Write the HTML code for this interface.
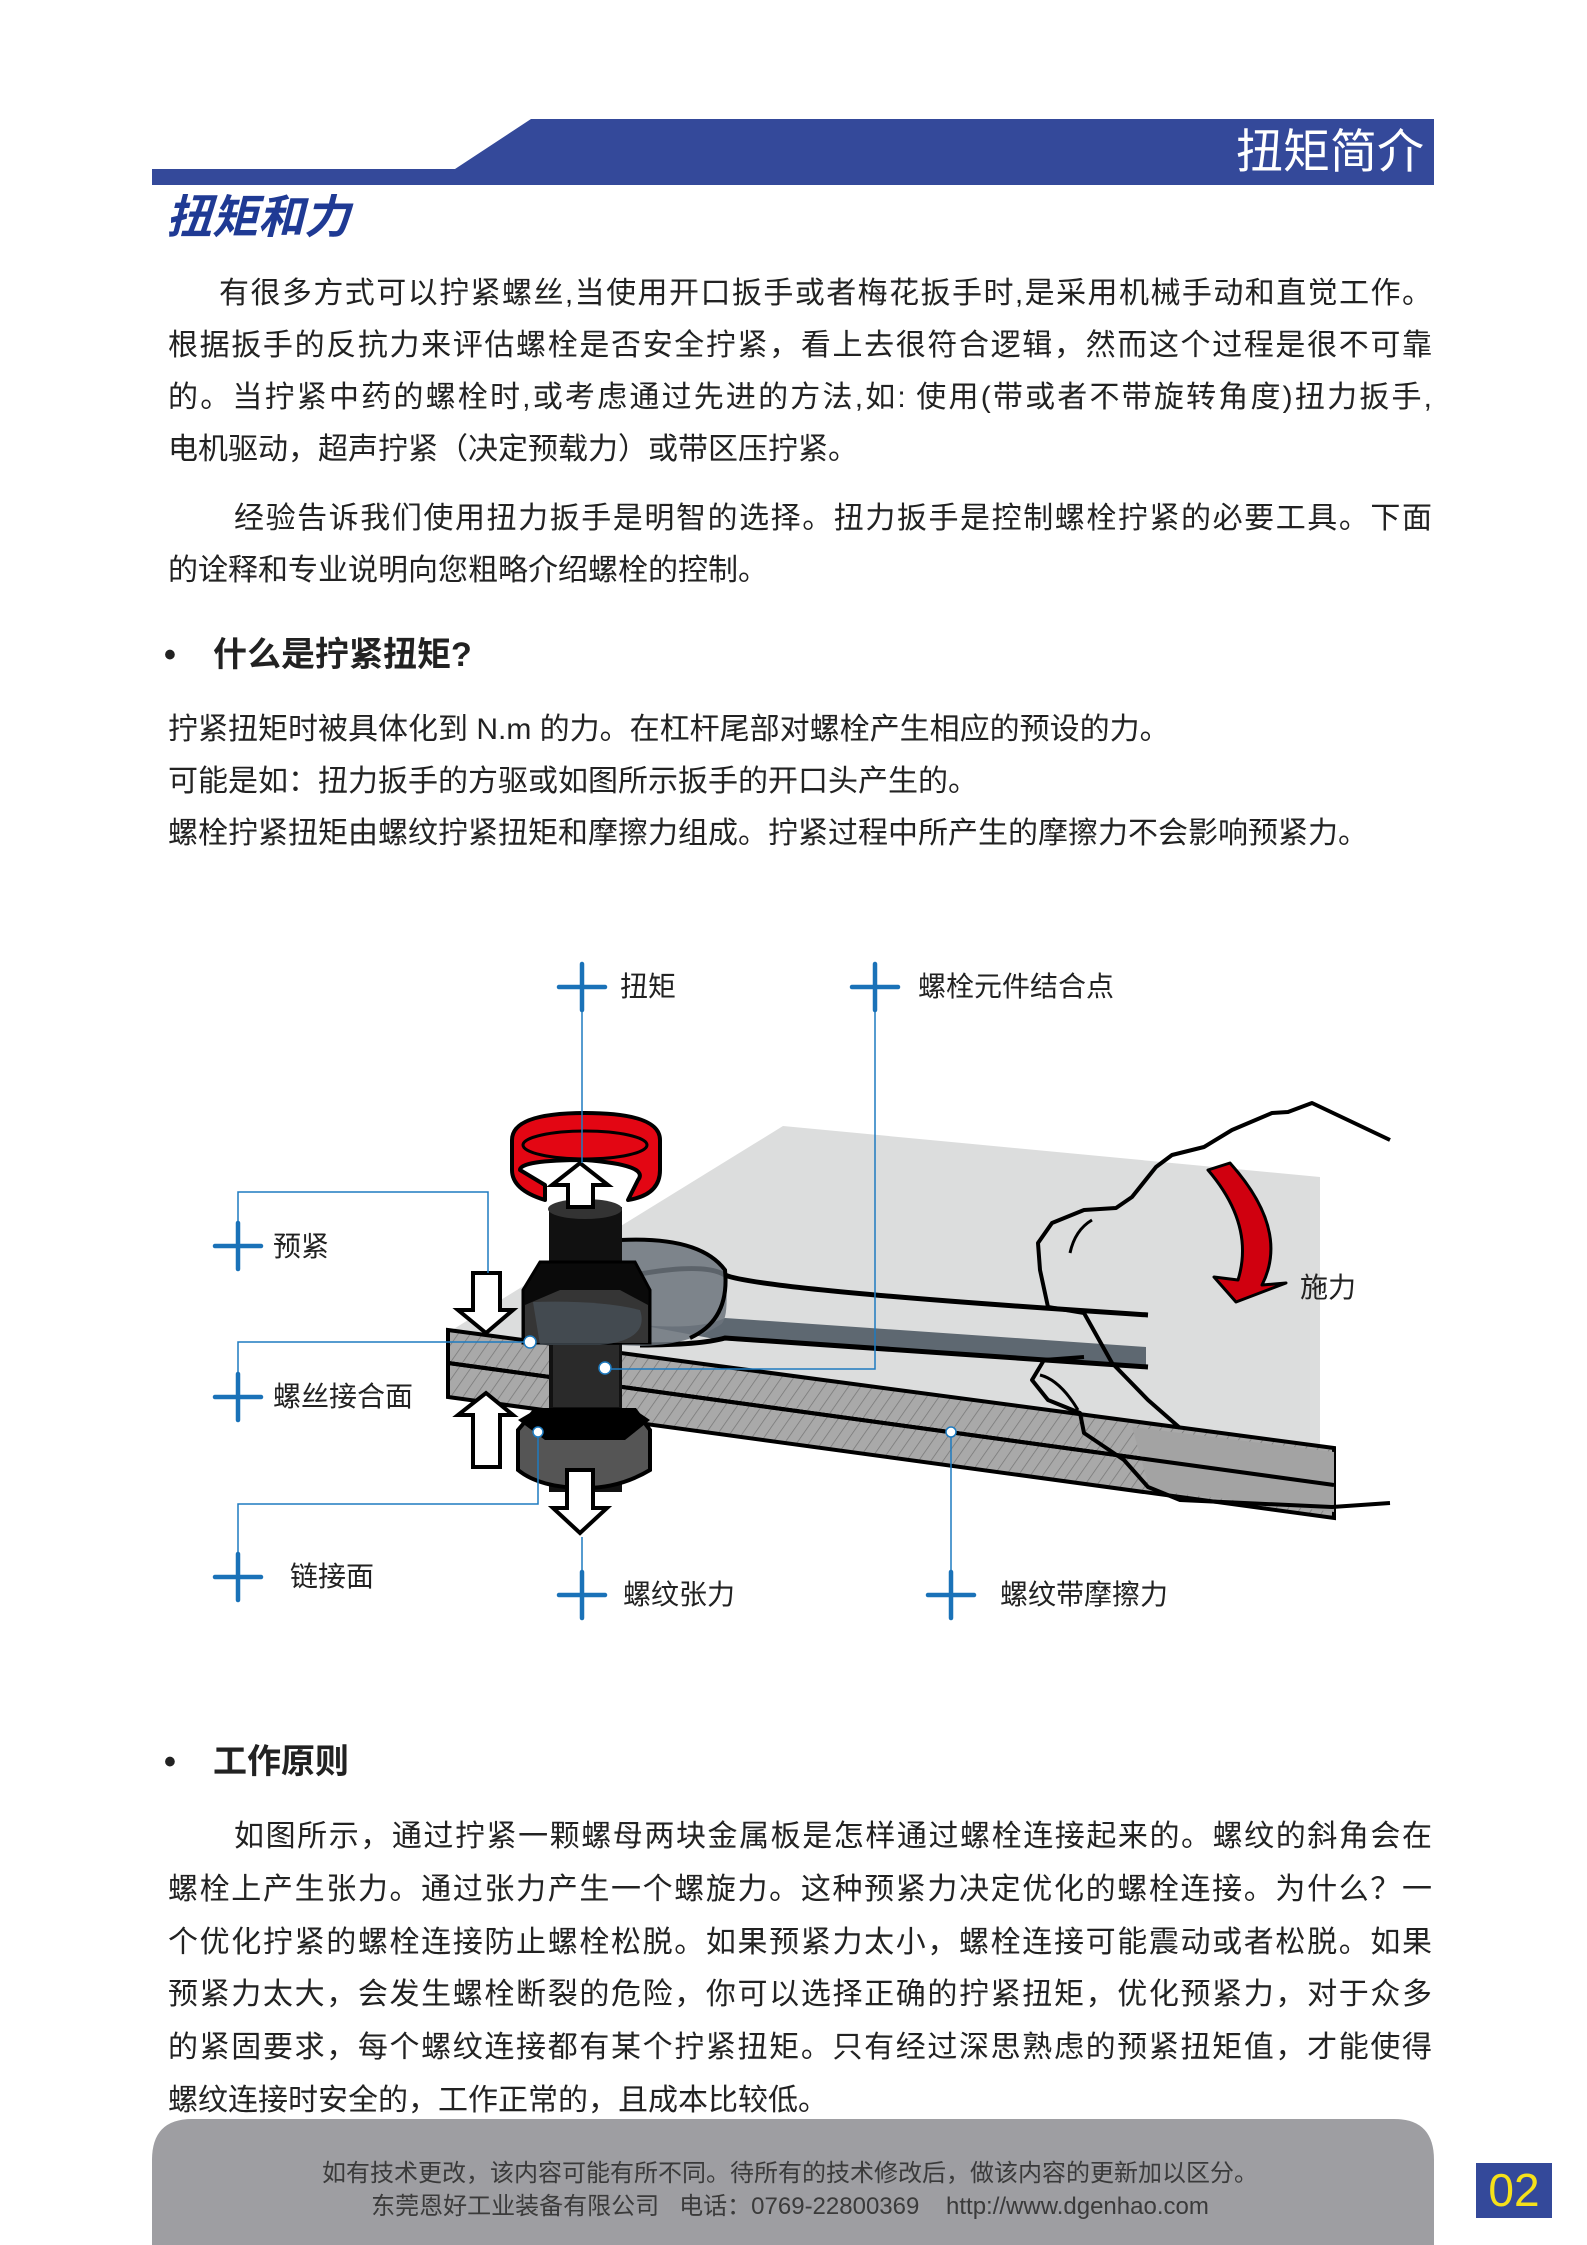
<!DOCTYPE html>
<html><head><meta charset="utf-8">
<style>
html,body{margin:0;padding:0;background:#fff}
body{width:1587px;height:2245px;position:relative;overflow:hidden;font-family:"Liberation Sans","Noto Sans CJK SC",sans-serif;color:#222}
.l{position:absolute;font-size:30px;line-height:40px;white-space:nowrap}
.j{text-align:justify;text-align-last:justify;white-space:normal}
.lab{position:absolute;font-size:28px;line-height:36px;color:#222;white-space:nowrap}
</style></head><body>
<svg width="1587" height="2245" style="position:absolute;left:0;top:0">
<defs>
<pattern id="h" width="10" height="10" patternUnits="userSpaceOnUse" patternTransform="rotate(35)">
<rect width="10" height="10" fill="#a9a9a9"/><line x1="0" y1="0" x2="0" y2="10" stroke="#777" stroke-width="1.5"/></pattern>
</defs>
<polygon points="152,169 455,169 531,119 1434,119 1434,185 152,185" fill="#34499a"/>
<path d="M152,2245 L152,2160 Q152,2119 192,2119 L1394,2119 Q1434,2119 1434,2160 L1434,2245 Z" fill="#9e9ea2"/>
<rect x="1476" y="2163" width="76" height="55" fill="#34499a"/>

<polygon points="452,1330 783,1126 1320,1177 1320,1446" fill="#dcdddd"/>
<path d="M610,1280 Q700,1260 725,1275 Q760,1290 1148,1315" fill="none" stroke="#000" stroke-width="5"/>
<path d="M640,1325 Q700,1330 725,1318 L1146,1347 L1146,1367 L720,1340 Z" fill="#5e6871"/>
<path d="M640,1345 Q700,1345 725,1338 L1148,1367" fill="none" stroke="#000" stroke-width="5"/>
<path d="M620,1240 Q700,1236 725,1270 Q730,1320 720,1325 Q680,1350 620,1345 Z" fill="#6c747c" opacity="0.85"/>
<path d="M620,1240 Q700,1236 725,1270 Q730,1320 690,1338" fill="none" stroke="#000" stroke-width="4"/>
<polygon points="448,1330 1334,1448 1334,1485 448,1363" fill="url(#h)" stroke="#000" stroke-width="4"/>
<polygon points="448,1363 1334,1485 1334,1518 448,1397" fill="url(#h)" stroke="#000" stroke-width="4"/>
<polygon points="1132,1427 1334,1452 1334,1512 1150,1490 Q1120,1460 1132,1427Z" fill="#a3a3a3"/>
<line x1="448" y1="1363" x2="1334" y2="1485" stroke="#000" stroke-width="4"/>
<path d="M1390,1140 L1312,1103 L1288,1112 L1272,1113 L1232,1130 L1204,1147 L1172,1155 L1156,1167 L1132,1197 L1116,1208 L1084,1210 L1052,1223 L1038,1243 L1040,1270 L1048,1307 L1084,1313 L1112,1363 L1148,1400 L1180,1428" fill="none" stroke="#000" stroke-width="4" stroke-linejoin="round"/>
<path d="M1070,1253 Q1075,1230 1092,1220" fill="none" stroke="#000" stroke-width="3"/>
<path d="M1084,1357 L1044,1360 L1032,1380 L1048,1400 L1080,1413 L1084,1433 L1124,1460 L1148,1487 L1180,1500 L1332,1507 L1390,1503" fill="none" stroke="#000" stroke-width="4" stroke-linejoin="round"/>
<path d="M1040,1375 Q1060,1380 1078,1410" fill="none" stroke="#000" stroke-width="3"/>
<path d="M1208,1170 L1230,1163 Q1290,1230 1262,1285 L1286,1283 L1236,1302 L1214,1277 L1238,1280 Q1255,1225 1208,1170Z" fill="#d0000f" stroke="#000" stroke-width="3" stroke-linejoin="round"/>
<rect x="549" y="1207" width="73" height="285" fill="#111"/>
<ellipse cx="585" cy="1209" rx="37" ry="10" fill="#333"/>
<path d="M523,1290 L540,1262 L635,1262 L650,1290 L650,1343 L523,1343Z" fill="#0a0a0a" stroke="#000" stroke-width="3"/>
<path d="M525,1305 L560,1290 L620,1290 L648,1305 L648,1343 L525,1343Z" fill="#3a3a3a" opacity="0.9"/>
<path d="M533,1302 Q600,1300 640,1310 Q650,1340 600,1345 L540,1345 Z" fill="#4a545c" opacity="0.7"/>
<rect x="553" y="1345" width="66" height="62" fill="#2a2a2a"/>
<path d="M518,1430 L535,1410 L635,1410 L650,1430 L650,1470 Q620,1488 585,1488 Q540,1488 518,1470Z" fill="#555" stroke="#000" stroke-width="4"/>
<path d="M518,1420 L535,1410 L635,1410 L650,1420 L625,1440 L545,1440Z" fill="#000"/>
<path d="M512,1140 Q512,1113 585,1113 Q660,1113 660,1140 L660,1170 Q660,1195 628,1200 L638,1180 Q650,1165 585,1160 Q520,1160 520,1170 L545,1185 L545,1200 Q512,1190 512,1170Z" fill="#e30613" stroke="#000" stroke-width="4" stroke-linejoin="round"/>
<ellipse cx="585" cy="1145" rx="62" ry="14" fill="none" stroke="#000" stroke-width="3"/>
<g fill="#fff" stroke="#000" stroke-width="4" stroke-linejoin="miter">
<polygon points="568,1207 568,1185 552,1185 580,1163 608,1185 593,1185 593,1207"/>
<polygon points="473,1273 500,1273 500,1310 513,1310 486,1333 458,1310 473,1310"/>
<polygon points="473,1467 500,1467 500,1415 513,1415 486,1393 458,1415 473,1415"/>
<polygon points="567,1470 593,1470 593,1508 607,1508 580,1533 553,1508 567,1508"/>
</g>
<g stroke="#1e7bc0" stroke-width="1.5" fill="none">
<line x1="582" y1="1011" x2="582" y2="1163"/>
<polyline points="875,1011 875,1369 608,1369"/>
<polyline points="238,1222 238,1192 488,1192 488,1273"/>
<polyline points="238,1373 238,1342 533,1342"/>
<polyline points="238,1553 238,1504 538,1504 538,1432"/>
<line x1="582" y1="1537" x2="582" y2="1572"/>
<line x1="951" y1="1432" x2="951" y2="1572"/>
</g>
<g fill="#fff" stroke="#1e7bc0" stroke-width="1.5"><circle cx="530" cy="1342" r="6"/><circle cx="605" cy="1368" r="6"/><circle cx="538" cy="1432" r="5"/><circle cx="951" cy="1432" r="5"/></g>
<g stroke="#1a72b8" stroke-width="4.5" stroke-linecap="round">
<line x1="559" y1="987" x2="605" y2="987"/><line x1="582" y1="964" x2="582" y2="1010"/>
<line x1="852" y1="987" x2="898" y2="987"/><line x1="875" y1="964" x2="875" y2="1010"/>
<line x1="215" y1="1246" x2="261" y2="1246"/><line x1="238" y1="1223" x2="238" y2="1269"/>
<line x1="215" y1="1397" x2="261" y2="1397"/><line x1="238" y1="1374" x2="238" y2="1420"/>
<line x1="215" y1="1577" x2="261" y2="1577"/><line x1="238" y1="1554" x2="238" y2="1600"/>
<line x1="559" y1="1595" x2="605" y2="1595"/><line x1="582" y1="1572" x2="582" y2="1618"/>
<line x1="928" y1="1595" x2="974" y2="1595"/><line x1="951" y1="1572" x2="951" y2="1618"/>
</g>
</svg>

<div style="position:absolute;left:1236px;top:122px;font-size:47px;line-height:60px;color:#fff">扭矩简介</div>
<div style="position:absolute;left:166px;top:190px;font-size:46px;line-height:54px;color:#1f3a94;font-weight:bold;font-style:italic">扭矩和力</div>

<div class="l j" style="left:219px;top:274px;width:1213px">有很多方式可以拧紧螺丝,当使用开口扳手或者梅花扳手时,是采用机械手动和直觉工作。</div>
<div class="l j" style="left:168px;top:326px;width:1264px">根据扳手的反抗力来评估螺栓是否安全拧紧，看上去很符合逻辑，然而这个过程是很不可靠</div>
<div class="l j" style="left:168px;top:378px;width:1264px">的。当拧紧中药的螺栓时,或考虑通过先进的方法,如: 使用(带或者不带旋转角度)扭力扳手,</div>
<div class="l" style="left:168px;top:430px">电机驱动，超声拧紧（决定预载力）或带区压拧紧。</div>
<div class="l j" style="left:234px;top:499px;width:1198px">经验告诉我们使用扭力扳手是明智的选择。扭力扳手是控制螺栓拧紧的必要工具。下面</div>
<div class="l" style="left:168px;top:551px">的诠释和专业说明向您粗略介绍螺栓的控制。</div>

<div class="l" style="left:164px;top:634px;font-size:34px;line-height:42px;font-weight:bold">•</div>
<div class="l" style="left:213px;top:634px;font-size:34px;line-height:42px;font-weight:bold">什么是拧紧扭矩?</div>
<div class="l" style="left:168px;top:710px">拧紧扭矩时被具体化到 N.m 的力。在杠杆尾部对螺栓产生相应的预设的力。</div>
<div class="l" style="left:168px;top:762px">可能是如：扭力扳手的方驱或如图所示扳手的开口头产生的。</div>
<div class="l" style="left:168px;top:814px">螺栓拧紧扭矩由螺纹拧紧扭矩和摩擦力组成。拧紧过程中所产生的摩擦力不会影响预紧力。</div>

<div class="lab" style="left:620px;top:969px">扭矩</div>
<div class="lab" style="left:918px;top:969px">螺栓元件结合点</div>
<div class="lab" style="left:273px;top:1229px">预紧</div>
<div class="lab" style="left:273px;top:1379px">螺丝接合面</div>
<div class="lab" style="left:290px;top:1559px">链接面</div>
<div class="lab" style="left:623px;top:1577px">螺纹张力</div>
<div class="lab" style="left:1000px;top:1577px">螺纹带摩擦力</div>
<div class="lab" style="left:1300px;top:1270px">施力</div>

<div class="l" style="left:164px;top:1741px;font-size:34px;line-height:42px;font-weight:bold">•</div>
<div class="l" style="left:213px;top:1741px;font-size:34px;line-height:42px;font-weight:bold">工作原则</div>
<div class="l j" style="left:234px;top:1817px;width:1198px">如图所示，通过拧紧一颗螺母两块金属板是怎样通过螺栓连接起来的。螺纹的斜角会在</div>
<div class="l j" style="left:168px;top:1870px;width:1264px">螺栓上产生张力。通过张力产生一个螺旋力。这种预紧力决定优化的螺栓连接。为什么？一</div>
<div class="l j" style="left:168px;top:1923px;width:1264px">个优化拧紧的螺栓连接防止螺栓松脱。如果预紧力太小，螺栓连接可能震动或者松脱。如果</div>
<div class="l j" style="left:168px;top:1975px;width:1264px">预紧力太大，会发生螺栓断裂的危险，你可以选择正确的拧紧扭矩，优化预紧力，对于众多</div>
<div class="l j" style="left:168px;top:2028px;width:1264px">的紧固要求，每个螺纹连接都有某个拧紧扭矩。只有经过深思熟虑的预紧扭矩值，才能使得</div>
<div class="l" style="left:168px;top:2081px">螺纹连接时安全的，工作正常的，且成本比较低。</div>

<div style="position:absolute;left:190px;width:1200px;top:2157px;text-align:center;font-size:24px;line-height:33px;color:#3a3a3a">如有技术更改，该内容可能有所不同。待所有的技术修改后，做该内容的更新加以区分。<br>东莞恩好工业装备有限公司&nbsp;&nbsp;&nbsp;电话：0769-22800369&nbsp;&nbsp;&nbsp;&nbsp;http://www.dgenhao.com</div>
<div style="position:absolute;left:1476px;top:2163px;width:76px;height:55px;text-align:center;font-size:46px;line-height:55px;color:#f5e11a">02</div>
</body></html>
